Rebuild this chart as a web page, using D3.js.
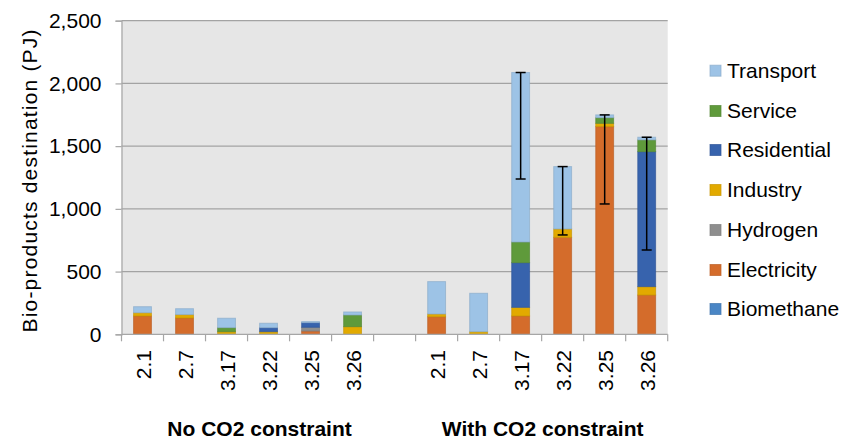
<!DOCTYPE html>
<html>
<head>
<meta charset="utf-8">
<script src="https://cdn.jsdelivr.net/npm/d3@7"></script>
<style>
  body { margin: 0; background: #fff; }
  text { font-family: "Liberation Sans", Arial, sans-serif; fill: #000; }
</style>
</head>
<body>
<div id="chart"></div>
<script>
// scenario slots, one empty slot between the two groups
var categories = ["2.1", "2.7", "3.17", "3.22", "3.25", "3.26", "", "2.1", "2.7", "3.17", "3.22", "3.25", "3.26"];
var groups = ["No CO2 constraint", "With CO2 constraint"];

// stack order bottom -> top
var seriesNames = ["Biomethane", "Electricity", "Hydrogen", "Industry", "Residential", "Service", "Transport"];
var seriesColors = ["#4a86c5", "#d46c2b", "#8e8e8e", "#e2aa00", "#3763ad", "#5f9a3b", "#9dc3e6"];

// PJ per sector (segment values)
var biomethane  = [0,   0,   0,  0,  0,  0, 0,   0,   0,    0,   0,    0,    0];
var electricity = [146, 130, 0,  0,  26, 0, 0,   140, 0,    146, 773,  1656, 313];
var hydrogen    = [0,   0,   0,  0,  30, 0, 0,   0,   0,    0,   0,    0,    0];
var industry    = [26,  27,  21, 21, 0,  61, 0,  22,  21,   69,  67,   26,   67];
var residential = [0,   0,   0,  32, 37, 0, 0,   0,   0,    356, 0,    0,    1076];
var service     = [0,   0,   32, 0,  0,  93, 0,  0,   0,    165, 0,    45,   94];
var transport   = [48,  47,  75, 35, 8,  24, 0,  258, 306,  1351, 497, 22,   21];

// minus error bars (PJ below the bar top)
var errMinus = [0, 0, 0, 0, 0, 0, 0, 0, 0, 849, 545, 710, 899];

var yTicks = [0, 500, 1000, 1500, 2000, 2500];

var values = [biomethane, electricity, hydrogen, industry, residential, service, transport];

var W = 858, H = 442;
var plotL = 121.5, plotR = 667.7, plotT = 20.7, plotB = 334.3;

var svg = d3.select('#chart').append('svg')
  .attr('width', W)
  .attr('height', H);

var x = d3.scaleBand()
  .domain(d3.range(categories.length))
  .range([plotL, plotR])
  .paddingInner(0.575)
  .paddingOuter(0.2875);

var y = d3.scaleLinear()
  .domain([0, 2500])
  .range([plotB, plotT]);

// plot background
svg.append('rect')
  .attr('x', plotL)
  .attr('y', plotT)
  .attr('width', plotR - plotL)
  .attr('height', plotB - plotT)
  .attr('fill', '#e6e6e6');

// gridlines
svg.append('g')
  .selectAll('line')
  .data(yTicks.slice(1))
  .enter()
  .append('line')
  .attr('x1', plotL)
  .attr('x2', plotR)
  .attr('y1', function(d){ return y(d); })
  .attr('y2', function(d){ return y(d); })
  .attr('stroke', '#a3a3a3')
  .attr('stroke-width', 1.2);

// y axis
var yAxis = svg.append('g')
  .attr('transform', 'translate(' + plotL + ',0)')
  .call(d3.axisLeft(y).tickValues(yTicks).tickSize(6).tickPadding(14).tickFormat(d3.format(',')));
yAxis.select('.domain').attr('stroke', '#a6a6a6').attr('stroke-width', 1.2);
yAxis.selectAll('.tick line').attr('stroke', '#a6a6a6').attr('stroke-width', 1.2);
yAxis.selectAll('.tick text')
  .attr('font-size', '21px')
  .attr('font-family', '"Liberation Sans", Arial, sans-serif')
  .attr('fill', '#000');

// stacked data
var rows = categories.map(function(c, i){
  var r = { i: i };
  seriesNames.forEach(function(s, k){ r[s] = values[k][i]; });
  return r;
});
var stack = d3.stack().keys(seriesNames)(rows);

svg.append('g')
  .selectAll('g')
  .data(stack)
  .enter()
  .append('g')
  .attr('fill', function(d, k){ return seriesColors[k]; })
  .attr('stroke', function(d, k){ return d3.color(seriesColors[k]).darker(0.35); })
  .attr('stroke-opacity', 0.7)
  .selectAll('rect')
  .data(function(d){ return d.filter(function(p){ return p[1] - p[0] > 0; }); })
  .enter()
  .append('rect')
  .attr('x', function(d){ return x(d.data.i); })
  .attr('width', x.bandwidth())
  .attr('y', function(d){ return y(d[1]); })
  .attr('height', function(d){ return y(d[0]) - y(d[1]); })
  .attr('stroke-width', 1);

// error bars
var totals = rows.map(function(r){
  return d3.sum(seriesNames, function(s){ return r[s]; });
});
var errData = errMinus.map(function(e, i){ return { i: i, hi: totals[i], lo: totals[i] - e }; })
  .filter(function(d){ return d.hi > d.lo; });

var eb = svg.append('g')
  .attr('stroke', '#000')
  .attr('stroke-width', 1.5)
  .selectAll('g')
  .data(errData)
  .enter()
  .append('g');
eb.append('line')
  .attr('x1', function(d){ return x(d.i) + x.bandwidth() / 2; })
  .attr('x2', function(d){ return x(d.i) + x.bandwidth() / 2; })
  .attr('y1', function(d){ return y(d.hi); })
  .attr('y2', function(d){ return y(d.lo); });
['hi', 'lo'].forEach(function(key){
  eb.append('line')
    .attr('x1', function(d){ return x(d.i) + x.bandwidth() / 2 - 5; })
    .attr('x2', function(d){ return x(d.i) + x.bandwidth() / 2 + 5; })
    .attr('y1', function(d){ return y(d[key]); })
    .attr('y2', function(d){ return y(d[key]); });
});

// x axis line and slot ticks
var step = x.step();
svg.append('line')
  .attr('x1', plotL)
  .attr('x2', plotR)
  .attr('y1', plotB)
  .attr('y2', plotB)
  .attr('stroke', '#a6a6a6')
  .attr('stroke-width', 1.2);
svg.append('g')
  .selectAll('line')
  .data(d3.range(categories.length + 1))
  .enter()
  .append('line')
  .attr('x1', function(d){ return plotL + d * step; })
  .attr('x2', function(d){ return plotL + d * step; })
  .attr('y1', plotB)
  .attr('y2', plotB + 7)
  .attr('stroke', '#a6a6a6')
  .attr('stroke-width', 1.2);

// rotated category labels
svg.append('g')
  .selectAll('text')
  .data(categories)
  .enter()
  .append('text')
  .text(function(d){ return d; })
  .attr('transform', function(d, i){
    return 'translate(' + (x(i) + x.bandwidth() / 2 + 8) + ',' + 350 + ') rotate(-90)';
  })
  .attr('text-anchor', 'end')
  .attr('font-size', '21px');

// group labels (Excel puts the first one a bit right of its bars)
var groupCenters = [
  (x(0) + x(5) + x.bandwidth()) / 2 + 12,
  (x(7) + x(12) + x.bandwidth()) / 2 + 1
];
svg.append('g')
  .selectAll('text')
  .data(groups)
  .enter()
  .append('text')
  .text(function(d){ return d; })
  .attr('x', function(d, i){ return groupCenters[i]; })
  .attr('y', 436)
  .attr('text-anchor', 'middle')
  .attr('font-size', '21px')
  .attr('font-weight', 'bold');

// y axis title
svg.append('text')
  .text('Bio-products destination (PJ)')
  .attr('transform', 'translate(37,181) rotate(-90)')
  .attr('text-anchor', 'middle')
  .attr('font-size', '21px')
  .attr('textLength', 303)
  .attr('lengthAdjust', 'spacing');

// legend, reversed so Transport is on top
var legendY = [70.7, 111, 150, 190, 230, 270, 309];
var legend = svg.append('g')
  .selectAll('g')
  .data(seriesNames.slice().reverse())
  .enter()
  .append('g')
  .attr('transform', function(d, i){ return 'translate(710,' + legendY[i] + ')'; });
legend.append('rect')
  .attr('x', 0)
  .attr('y', -5.5)
  .attr('width', 11)
  .attr('height', 11)
  .attr('fill', function(d){ return seriesColors[seriesNames.indexOf(d)]; })
  .attr('stroke', function(d){ return d3.color(seriesColors[seriesNames.indexOf(d)]).darker(0.35); })
  .attr('stroke-opacity', 0.7);
legend.append('text')
  .text(function(d){ return d; })
  .attr('x', 17)
  .attr('dy', '0.35em')
  .attr('font-size', '21px');
</script>
</body>
</html>
